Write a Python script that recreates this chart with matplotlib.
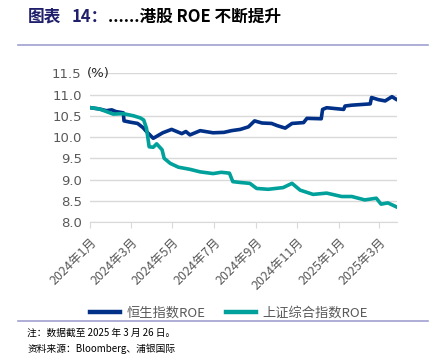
import matplotlib
matplotlib.use("Agg")
import matplotlib.pyplot as plt
import pandas as pd

plt.rcParams["font.family"] = ["Noto Sans CJK SC", "DejaVu Sans"]

# ---------------------------
# DATA
# ---------------------------
hsi_dates = [
    "2024-01-02", "2024-01-15", "2024-01-25", "2024-02-02", "2024-02-08",
    "2024-02-19", "2024-02-20", "2024-02-29", "2024-03-11", "2024-03-19",
    "2024-03-24", "2024-04-03", "2024-04-17", "2024-04-30", "2024-05-15",
    "2024-05-21", "2024-05-27", "2024-06-11", "2024-06-30", "2024-07-16",
    "2024-07-27", "2024-08-09", "2024-08-21", "2024-08-30", "2024-09-10",
    "2024-09-24", "2024-10-02", "2024-10-14", "2024-10-24", "2024-11-10",
    "2024-11-15", "2024-12-06", "2024-12-08", "2024-12-14", "2025-01-08",
    "2025-01-10", "2025-01-20", "2025-02-16", "2025-02-18", "2025-02-28",
    "2025-03-10", "2025-03-20", "2025-03-26",
]
hsi_roe = [
    10.69, 10.66, 10.62, 10.64, 10.60,
    10.57, 10.38, 10.35, 10.32, 10.22,
    10.13, 9.97, 10.10, 10.18, 10.08,
    10.13, 10.05, 10.15, 10.10, 10.11,
    10.15, 10.18, 10.24, 10.38, 10.33,
    10.32, 10.27, 10.21, 10.32, 10.34,
    10.44, 10.43, 10.65, 10.69, 10.65,
    10.73, 10.75, 10.78, 10.93, 10.88,
    10.85, 10.95, 10.89,
]

sh_dates = [
    "2024-01-02", "2024-01-15", "2024-01-25", "2024-02-04", "2024-02-19",
    "2024-03-05", "2024-03-15", "2024-03-20", "2024-03-24", "2024-03-28",
    "2024-04-03", "2024-04-08", "2024-04-16", "2024-04-19", "2024-04-28",
    "2024-05-10", "2024-05-27", "2024-06-11", "2024-06-30", "2024-07-12",
    "2024-07-24", "2024-07-29", "2024-08-09", "2024-08-23", "2024-09-02",
    "2024-09-19", "2024-10-11", "2024-10-24", "2024-11-05", "2024-11-24",
    "2024-12-14", "2025-01-05", "2025-01-20", "2025-02-08", "2025-02-25",
    "2025-03-04", "2025-03-14", "2025-03-26",
]
sh_roe = [
    10.69, 10.66, 10.60, 10.54, 10.55,
    10.50, 10.45, 10.40, 10.21, 9.77,
    9.76, 9.84, 9.70, 9.50, 9.38,
    9.29, 9.24, 9.18, 9.14, 9.17,
    9.15, 8.95, 8.93, 8.91, 8.79,
    8.77, 8.81, 8.91, 8.75, 8.65,
    8.68, 8.60, 8.60, 8.52, 8.56,
    8.42, 8.45, 8.36,
]

tick_dates = ["2024-01-01", "2024-03-01", "2024-05-01", "2024-07-01",
              "2024-09-01", "2024-11-01", "2025-01-01", "2025-03-01"]
tick_labels = ["2024年1月", "2024年3月", "2024年5月", "2024年7月",
               "2024年9月", "2024年11月", "2025年1月", "2025年3月"]
y_ticks = [8.0, 8.5, 9.0, 9.5, 10.0, 10.5, 11.0, 11.5]

BLUE = "#003087"
TEAL = "#00A19B"
GRAY = "#595959"

# ---------------------------
# PLOT
# ---------------------------
fig = plt.figure(figsize=(4.3, 3.59), dpi=100)
ax = fig.add_axes([0.2093, 0.3816, 0.7133, 0.4142])

ax.plot(pd.to_datetime(hsi_dates), hsi_roe, color=BLUE, lw=2.6,
        label="恒生指数ROE", solid_joinstyle="round")
ax.plot(pd.to_datetime(sh_dates), sh_roe, color=TEAL, lw=2.6,
        label="上证综合指数ROE", solid_joinstyle="round")

ax.set_xlim(pd.Timestamp("2024-01-01"), pd.Timestamp("2025-03-27"))
ax.set_ylim(8.0, 11.5)
ax.set_yticks(y_ticks)
ax.set_yticklabels([f"{v:.1f}" for v in y_ticks], color=GRAY, fontsize=9.5,
                   family=["DejaVu Sans"])
ax.set_xticks(pd.to_datetime(tick_dates))
ax.set_xticklabels(tick_labels, rotation=45, ha="right",
                   rotation_mode="anchor", color=GRAY, fontsize=9)

ax.grid(axis="y", color="#d9d9d9", lw=1)
ax.set_axisbelow(True)
for s in ["top", "right", "left"]:
    ax.spines[s].set_visible(False)
ax.spines["bottom"].set_color("#d9d9d9")
ax.tick_params(axis="y", length=0, pad=6)
ax.tick_params(axis="x", length=4, color="#d9d9d9", pad=6)

ax.text(-0.01, 1.0, "(%)", transform=ax.transAxes, fontsize=9.5,
        ha="left", va="center", color="#262626", family=["DejaVu Sans"])

leg = fig.legend(loc="center", bbox_to_anchor=(0.533, 0.128), ncol=2,
                 frameon=False, fontsize=9.5, handlelength=2.3,
                 handletextpad=0.5, columnspacing=1.5, labelcolor=GRAY)
for line in leg.get_lines():
    line.set_linewidth(3.2)

# title and rules
fig.text(0.065, 0.953, "图表", fontsize=12, fontweight="bold",
         color="#1f1f6b", va="center", ha="left")
fig.text(0.167, 0.953, "14：", fontsize=12, fontweight="bold",
         color="#1f1f6b", va="center", ha="left")
fig.text(0.25, 0.953, "......港股 ROE 不断提升", fontsize=12,
         fontweight="bold", color="black", va="center", ha="left")
fig.add_artist(plt.Line2D([0.042, 0.995], [0.875, 0.875], color="#9f9fcf",
                          lw=1.2, transform=fig.transFigure))
fig.add_artist(plt.Line2D([0.042, 0.995], [0.105, 0.105], color="#9f9fcf",
                          lw=1.2, transform=fig.transFigure))

fig.text(0.063, 0.072, "注：数据截至 2025 年 3 月 26 日。", fontsize=7,
         color="black", va="center", ha="left")
fig.text(0.063, 0.028, "资料来源：Bloomberg、浦银国际", fontsize=7,
         color="black", va="center", ha="left")

fig.savefig("out.png", dpi=100)
plt.close(fig)
